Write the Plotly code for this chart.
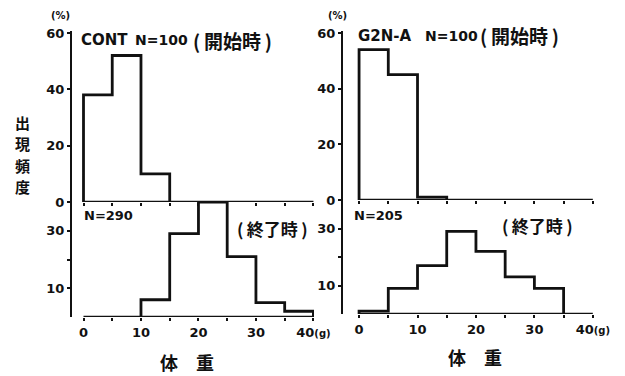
import plotly.graph_objects as go

# Body-weight frequency distributions (%), 5 g bins
BIN = 5
cont_start_lo = 0
cont_start = [38, 52, 10]
cont_end_lo = 10
cont_end = [6, 29, 40, 21, 5, 2]
g2n_start_lo = 0
g2n_start = [54, 45, 1]
g2n_end_lo = 0
g2n_end = [1, 9, 17, 29, 22, 13, 9]

x_tickvals = [0, 5, 10, 15, 20, 25, 30, 35, 40]
x_ticktext = ["0", "", "10", "", "20", "", "30", "", "40<span style='font-size:10px'>(g)</span>"]

W, H = 625, 376
INK = "#111111"
LAT = "DejaVu Sans"
CJK = "Noto Sans CJK JP"
TS = "\u2009"  # thin space inside the brackets


def px(x):
    return x / W


def py(y):
    return 1 - y / H


def step_xy(lo, vals):
    xs = [lo] + [lo + BIN * i for i in range(len(vals))] + [lo + BIN * len(vals)]
    ys = [0] + list(vals) + [0]
    return xs, ys


fig = go.Figure()

panels = [
    ("x", "y", cont_start_lo, cont_start),
    ("x2", "y2", g2n_start_lo, g2n_start),
    ("x3", "y3", cont_end_lo, cont_end),
    ("x4", "y4", g2n_end_lo, g2n_end),
]
for xa, ya, lo, vals in panels:
    xs, ys = step_xy(lo, vals)
    fig.add_trace(go.Scatter(x=xs, y=ys, mode="lines", line=dict(color=INK, width=2.8, shape="hv"),
                             xaxis=xa, yaxis=ya, showlegend=False, hoverinfo="skip", cliponaxis=False))
    # baseline of each histogram
    fig.add_trace(go.Scatter(x=[0, 40], y=[0, 0], mode="lines", line=dict(color=INK, width=2.4),
                             xaxis=xa, yaxis=ya, showlegend=False, hoverinfo="skip", cliponaxis=False))

tick_font = dict(family=LAT, size=13, color=INK, weight="bold")

left_dom = [px(72), px(314)]
right_dom = [px(343), px(594)]
left_rng = [-2.0, 40.1]
right_rng = [-2.75, 40.2]


def xaxis(dom, rng, anchor, labels):
    return dict(domain=dom, range=rng, anchor=anchor, automargin=False,
                showgrid=False, zeroline=False, showline=False,
                tickvals=x_tickvals, ticktext=x_ticktext if labels else [""] * len(x_tickvals),
                ticks="outside", ticklen=3, tickwidth=1.6, tickcolor=INK,
                tickfont=tick_font, fixedrange=True)


def yaxis(dom, rng, anchor, vals, text):
    return dict(domain=dom, range=rng, anchor=anchor, automargin=False,
                showgrid=False, zeroline=False,
                showline=True, linecolor=INK, linewidth=2.2,
                tickvals=vals, ticktext=text, ticks="outside", ticklen=3, tickwidth=1.6,
                tickcolor=INK, tickfont=tick_font, fixedrange=True)


fig.update_layout(
    template="none",
    width=W, height=H, margin=dict(l=0, r=0, t=0, b=0, pad=0),
    paper_bgcolor="white", plot_bgcolor="white",
    xaxis=xaxis(left_dom, left_rng, "y", False),
    xaxis2=xaxis(right_dom, right_rng, "y2", False),
    xaxis3=xaxis(left_dom, left_rng, "y3", True),
    xaxis4=xaxis(right_dom, right_rng, "y4", True),
    yaxis=yaxis([py(202), py(31)], [0, 60.7], "x", [0, 20, 40, 60], ["0", "20", "40", "60"]),
    yaxis2=yaxis([py(200), py(31)], [0, 60.7], "x2", [0, 20, 40, 60], ["0", "20", "40", "60"]),
    yaxis3=yaxis([py(317), py(202)], [0, 40], "x3", [10, 20, 30], ["10", "", "30"]),
    yaxis4=yaxis([py(314), py(200)], [0, 40], "x4", [10, 20, 30], ["10", "", "30"]),
)


def note(text, x, y, size, family=CJK, xanchor="left", pad=1):
    fig.add_annotation(text=text, x=px(x), y=py(y), xref="paper", yref="paper", showarrow=False,
                       xanchor=xanchor, yanchor="middle", borderpad=pad,
                       font=dict(family=family, size=size, color=INK, weight="bold"))


start_lbl = f"({TS}開始時{TS})"
end_lbl = f"({TS}終了時{TS})"

note("(%)", 49, 16, 10, LAT)
note("(%)", 326, 16, 10, LAT)
note("CONT", 79, 40, 15, LAT)
note("N=100", 133, 40, 14, LAT)
note(start_lbl, 191, 40, 19)
note("G2N-A", 356, 36, 15, LAT)
note("N=100", 423, 36, 14, LAT)
note(start_lbl, 478, 36, 19)
note("N=290", 82, 215, 13, LAT)
note("N=205", 352, 215, 13, LAT)
note(end_lbl, 235, 228, 17)
note(end_lbl, 500, 225, 17)
note("体　重", 187, 362, 18, xanchor="center")
note("体　重", 475, 357, 18, xanchor="center")
# vertical axis title, one character per line
for i, ch in enumerate("出現頻度"):
    note(ch, 22, 122 + 21.5 * i, 15, xanchor="center", pad=0)

fig.write_html("out.html")
